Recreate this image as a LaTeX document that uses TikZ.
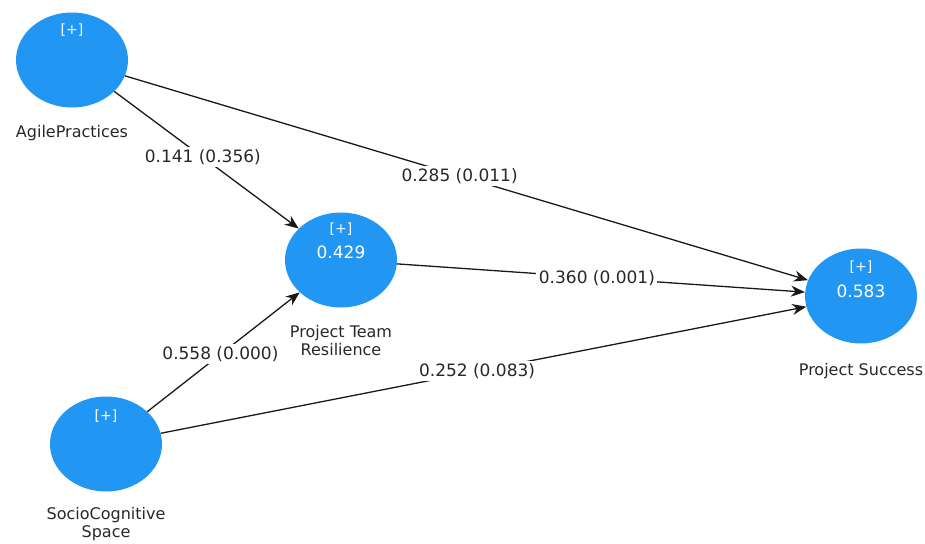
\documentclass[tikz,border=0pt]{standalone}
\usepackage{fontspec}
\setmainfont{DejaVu Sans}
\usetikzlibrary{arrows.meta,positioning,shapes.geometric}
\definecolor{lvblue}{RGB}{33,150,243}
\definecolor{lvtext}{RGB}{40,40,40}

\begin{document}
\begin{tikzpicture}[x=1pt,y=-1pt,
  latent/.style={ellipse,fill=lvblue,minimum width=112pt,minimum height=95pt,inner sep=0pt},
  plus/.style={text=white,font=\fontsize{14}{15}\selectfont,inner sep=0pt},
  rsq/.style={text=white,font=\fontsize{17}{19}\selectfont,inner sep=0pt},
  lvname/.style={text=lvtext,font=\fontsize{16}{18}\selectfont,align=center,inner sep=0pt},
  coef/.style={fill=white,text=lvtext,font=\fontsize{17}{19}\selectfont,inner sep=2.5pt},
  link/.style={-{Stealth[length=14pt,width=11pt]},line width=1.3pt,draw=black!90}]
  \useasboundingbox (0,0) rectangle (925,543);

  % constructs
  \node[latent] (agile) at (72,60) {};
  \node[latent] (ptr) at (341,260) {};
  \node[latent] (succ) at (861,296) {};
  \node[latent] (socio) at (106,444) {};

  \node[plus] (agileplus) at ([yshift=30pt]agile.center) {[+]};
  \node[plus] (ptrplus) at ([yshift=31pt]ptr.center) {[+]};
  \node[rsq] (ptrr2) at ([yshift=8pt]ptr.center) {0.429};
  \node[plus] (succplus) at ([yshift=29pt]succ.center) {[+]};
  \node[rsq] (succr2) at ([yshift=5pt]succ.center) {0.583};
  \node[plus] (socioplus) at ([yshift=28pt]socio.center) {[+]};

  \node[lvname, below=17pt of agile] (agilename) {AgilePractices};
  \node[lvname, below=17pt of ptr] (ptrname) {Project Team\\Resilience};
  \node[lvname, below=19pt of succ] (succname) {Project Success};
  \node[lvname, below=15pt of socio] (socioname) {SocioCognitive\\Space};

  % paths
  \draw[link] (agile) -- node[coef,pos=0.48] (c1) {0.141 (0.356)} (ptr);
  \draw[link] (agile) -- node[coef,pos=0.49] (c2) {0.285 (0.011)} (succ);
  \draw[link] (ptr) -- node[coef,pos=0.49] (c3) {0.360 (0.001)} (succ);
  \draw[link] (socio) -- node[coef,pos=0.48] (c4) {0.558 (0.000)} (ptr);
  \draw[link] (socio) -- node[coef,pos=0.49] (c5) {0.252 (0.083)} (succ);
\end{tikzpicture}
\end{document}
